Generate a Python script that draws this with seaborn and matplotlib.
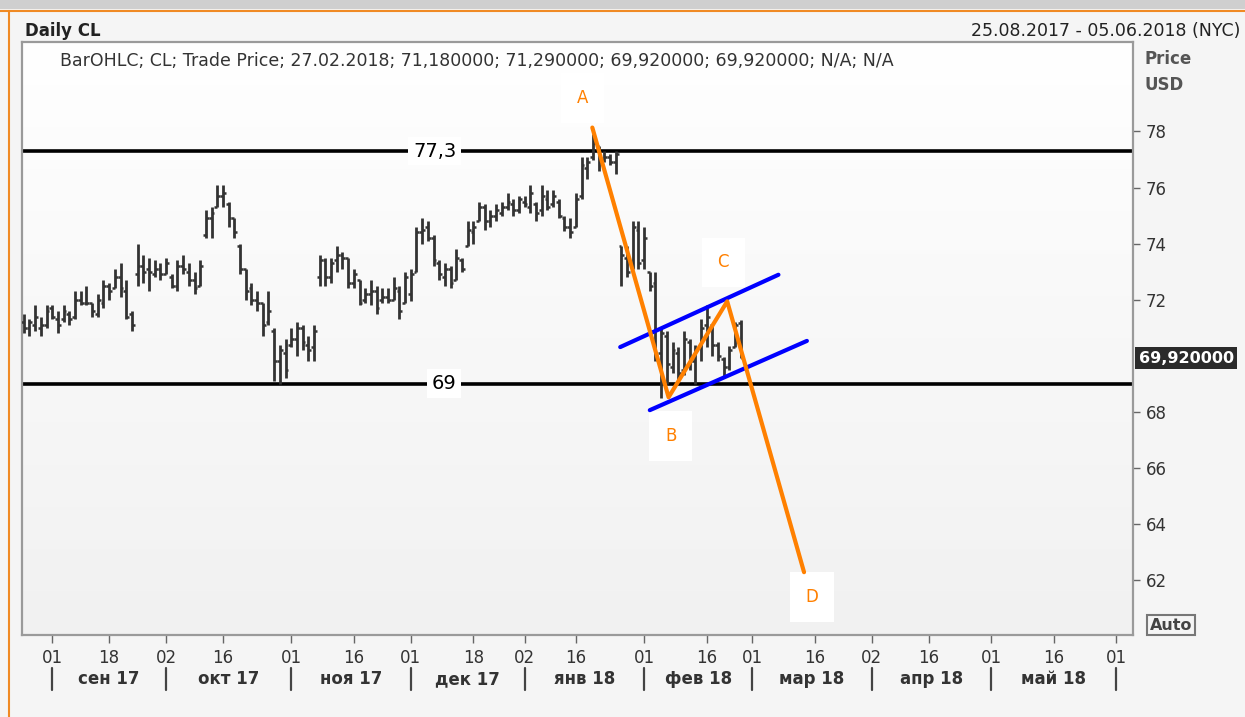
import numpy as np
import pandas as pd
import matplotlib
matplotlib.use("Agg")
import matplotlib.pyplot as plt
import matplotlib.transforms as mtransforms
from matplotlib.colors import LinearSegmentedColormap
import seaborn as sns

# ---------------- data ----------------
axis_start, axis_end = "2017-08-25", "2018-06-05"
holidays = ["2017-09-04", "2017-11-23", "2017-12-25", "2018-01-01",
            "2018-01-15", "2018-02-19", "2018-03-30", "2018-05-28"]

opens = [71.2, 71.0, 71.1, 71.0, 71.1, 71.7, 71.3, 71.3, 71.5, 71.4,
         72.0, 71.9, 71.9, 71.5, 71.9, 72.5, 72.4, 72.8, 72.3, 71.5,
         72.9, 73.2, 73.1, 72.9, 73.1, 72.9, 72.8, 72.5, 73.2, 73.0,
         72.7, 72.5, 74.3, 74.9, 75.3, 75.7, 75.4, 74.9, 73.9, 73.1,
         72.4, 72.0, 71.9, 71.2, 70.9, 69.8, 70.1, 70.4, 70.6, 71.0,
         70.4, 70.3, 72.8, 73.4, 72.8, 73.4, 73.6, 73.5, 72.6, 72.7,
         72.0, 72.2, 72.3, 72.0, 72.1, 72.0, 72.3, 71.9, 72.2, 73.0,
         74.4, 74.6, 74.2, 73.3, 72.8, 73.1, 72.7, 73.4, 73.9, 74.4,
         74.8, 75.3, 74.8, 75.0, 75.1, 75.3, 75.4, 75.2, 75.5, 75.3,
         75.4, 75.2, 75.6, 75.4, 75.5, 74.9, 74.6, 74.6, 75.7, 76.7,
         77.1, 77.5, 77.0, 77.1, 76.9, 73.9, 73.5, 73.2, 74.5, 73.4,
         73.0, 72.6, 70.1, 70.7, 69.6, 70.1, 69.5, 70.5, 69.8, 70.3,
         71.1, 71.1, 70.4, 69.9, 69.6, 70.3, 71.18]
highs = [71.5, 71.3, 71.8, 71.4, 71.8, 71.8, 71.6, 71.8, 71.6, 72.3,
         72.3, 72.5, 71.9, 72.2, 72.7, 72.6, 73.1, 73.3, 72.7, 71.6,
         74.0, 73.6, 73.5, 73.4, 73.3, 73.5, 72.9, 73.4, 73.6, 73.3,
         73.0, 73.4, 75.2, 75.3, 76.1, 76.1, 75.5, 74.9, 74.0, 73.1,
         72.6, 72.3, 71.9, 72.3, 71.0, 70.4, 70.6, 71.0, 71.2, 71.1,
         70.7, 71.1, 73.6, 73.5, 73.5, 73.9, 73.7, 73.5, 73.1, 72.7,
         72.4, 72.7, 72.5, 72.4, 72.4, 72.8, 72.5, 73.0, 73.1, 74.6,
         74.9, 74.8, 74.3, 73.4, 73.3, 73.2, 73.8, 73.5, 74.8, 74.8,
         75.5, 75.4, 75.2, 75.4, 75.5, 75.8, 75.6, 75.7, 75.7, 76.1,
         75.5, 76.1, 75.9, 75.9, 75.6, 75.0, 74.9, 75.8, 77.1, 77.1,
         77.9, 77.5, 77.3, 77.2, 77.3, 73.9, 73.9, 74.8, 74.8, 74.6,
         73.0, 73.0, 71.0, 70.9, 70.5, 70.3, 70.9, 70.6, 70.4, 71.3,
         71.8, 71.1, 70.5, 69.95, 70.35, 71.2, 71.29]
lows = [70.8, 70.7, 70.9, 70.7, 71.0, 71.3, 70.8, 71.2, 71.1, 71.3,
        71.8, 71.8, 71.4, 71.4, 71.7, 72.0, 72.4, 72.1, 71.3, 70.9,
        72.5, 72.6, 72.3, 72.8, 72.7, 72.9, 72.4, 72.3, 72.9, 72.5,
        72.2, 72.5, 74.2, 74.2, 75.3, 75.3, 74.6, 74.2, 72.9, 72.0,
        71.8, 71.6, 70.7, 71.1, 69.1, 69.0, 69.2, 70.3, 70.0, 70.2,
        69.8, 69.8, 72.5, 72.5, 72.6, 73.0, 73.1, 72.4, 72.4, 71.8,
        71.9, 71.8, 71.5, 71.9, 71.9, 72.0, 71.3, 71.9, 71.95, 73.0,
        74.0, 74.1, 73.2, 72.7, 72.5, 72.4, 72.7, 73.0, 73.9, 74.0,
        74.8, 74.5, 74.6, 74.8, 75.0, 75.2, 75.0, 75.1, 75.3, 75.1,
        74.8, 75.0, 75.2, 75.3, 74.9, 74.45, 74.2, 74.6, 75.6, 76.3,
        77.0, 76.6, 76.9, 76.8, 76.5, 72.5, 72.8, 73.1, 73.1, 73.1,
        72.3, 69.8, 68.5, 69.0, 69.4, 69.1, 69.3, 69.5, 69.0, 69.8,
        70.3, 70.0, 69.8, 69.2, 69.5, 70.3, 69.92]
closes = [71.0, 71.2, 71.4, 71.1, 71.6, 71.4, 71.1, 71.6, 71.3, 72.0,
          71.9, 71.9, 71.6, 72.0, 72.5, 72.3, 72.8, 72.4, 71.4, 71.1,
          73.2, 73.0, 73.0, 73.1, 72.9, 73.3, 72.5, 73.2, 73.1, 72.7,
          72.4, 73.2, 74.9, 75.1, 75.7, 75.8, 74.9, 74.4, 73.1, 72.3,
          72.0, 71.9, 71.1, 71.6, 69.8, 70.2, 69.5, 70.6, 71.0, 70.5,
          70.2, 70.9, 73.4, 72.8, 73.3, 73.6, 73.5, 72.6, 72.9, 71.9,
          72.2, 72.3, 71.7, 72.1, 72.0, 72.4, 71.6, 72.8, 72.9, 74.4,
          74.5, 74.2, 73.4, 72.9, 73.1, 72.6, 73.5, 73.1, 74.5, 74.6,
          75.3, 74.8, 75.0, 75.2, 75.3, 75.5, 75.2, 75.6, 75.4, 75.8,
          75.1, 75.7, 75.3, 75.7, 75.0, 74.6, 74.4, 75.6, 76.8, 76.9,
          77.6, 76.9, 77.1, 76.9, 77.2, 73.6, 73.0, 74.6, 73.3, 74.2,
          72.5, 70.0, 70.8, 69.7, 70.2, 69.4, 70.6, 69.8, 70.2, 71.0,
          71.4, 70.4, 70.0, 69.6, 70.2, 71.1, 69.92]

levels = [77.3, 69.0]
level_labels = ["77,3", "69"]
level_label_pos = [72.2, 73.8]

wave_x = [99.9, 113.3, 123.6, 137.1]
wave_y = [78.14, 68.52, 71.94, 62.28]
wave_names = ["A", "B", "C", "D"]
wave_label_x = [98.1, 113.7, 122.9, 138.5]
wave_label_y = [79.2, 67.15, 73.33, 61.4]

chan_up_x, chan_up_y = [104.8, 132.6], [70.31, 72.89]
chan_lo_x, chan_lo_y = [110.0, 137.6], [68.06, 70.53]

price_ticks = [62, 64, 66, 68, 72, 74, 76, 78]
tick_dates = ["2017-09-01", "2017-09-18", "2017-10-02", "2017-10-16", "2017-11-01",
              "2017-11-16", "2017-12-01", "2017-12-18", "2018-01-02", "2018-01-16",
              "2018-02-01", "2018-02-16", "2018-03-01", "2018-03-16", "2018-04-02",
              "2018-04-16", "2018-05-01", "2018-05-16", "2018-06-01"]
month_starts = ["2017-09-01", "2017-10-02", "2017-11-01", "2017-12-01", "2018-01-02",
                "2018-02-01", "2018-03-01", "2018-04-02", "2018-05-01", "2018-06-01"]
month_names = ["сен 17", "окт 17", "ноя 17", "дек 17", "янв 18",
               "фев 18", "мар 18", "апр 18", "май 18"]
last_price = 69.92
last_label = "69,920000"
header_left = "Daily CL"
header_right = "25.08.2017 - 05.06.2018 (NYC)"
info_line = ("BarOHLC; CL; Trade Price; 27.02.2018; 71,180000; 71,290000; "
             "69,920000; 69,920000; N/A; N/A")

# ---------------- style ----------------
sns.set_theme(style="white")
plt.rcParams["font.family"] = ["DejaVu Sans"]

W, H = 1245, 717
fig = plt.figure(figsize=(W / 100, H / 100), dpi=100, facecolor="#f5f5f5")
ax = fig.add_axes([22 / W, 1 - 635 / H, (1133 - 22) / W, (635 - 41.5) / H])

days = pd.bdate_range(axis_start, axis_end, freq="C", holidays=holidays)
pos = {d.strftime("%Y-%m-%d"): i for i, d in enumerate(days)}
n = len(opens)
x = np.arange(n)
xlim = (-0.31, len(days) - 1 + 0.9)
ylim = (60.04, 81.21)

# background gradient
grad = np.linspace(0, 1, 256).reshape(-1, 1)
cmap = LinearSegmentedColormap.from_list("bg", ["#f1f1f1", "#ffffff"])
ax.imshow(grad, extent=[xlim[0], xlim[1], ylim[0], ylim[1]], origin="lower",
          aspect="auto", cmap=cmap, zorder=0)

# OHLC bars
bar_col = "#333333"
ax.vlines(x, lows, highs, color=bar_col, lw=2.0, zorder=3)
ax.hlines(opens, x - 0.5, x, color=bar_col, lw=1.8, zorder=3)
ax.hlines(closes, x, x + 0.5, color=bar_col, lw=1.8, zorder=3)

# horizontal levels
for lv, lab, lx in zip(levels, level_labels, level_label_pos):
    ax.axhline(lv, color="black", lw=2.6, zorder=2)
    ax.text(lx, lv, lab, ha="center", va="center", fontsize=14, color="black", zorder=4,
            bbox=dict(boxstyle="square,pad=0.25", fc="white", ec="none"))

# wave path and channel
orange = "#ff8000"
sns.lineplot(x=wave_x, y=wave_y, ax=ax, color=orange, lw=3, sort=False, zorder=5)
sns.lineplot(x=chan_up_x, y=chan_up_y, ax=ax, color="#0000ff", lw=3, sort=False, zorder=4)
sns.lineplot(x=chan_lo_x, y=chan_lo_y, ax=ax, color="#0000ff", lw=3, sort=False, zorder=4)
for nm, lx, ly in zip(wave_names, wave_label_x, wave_label_y):
    ax.text(lx, ly, nm, ha="center", va="center", fontsize=12, color=orange, zorder=2,
            bbox=dict(boxstyle="square,pad=0.95", fc="white", ec="none"))

ax.set_xlim(*xlim)
ax.set_ylim(*ylim)

# y axis on right
ax.yaxis.tick_right()
ax.set_yticks(price_ticks)
ax.set_yticklabels([str(t) for t in price_ticks])
ax.tick_params(axis="y", direction="out", length=5, width=1, color="#666666",
               labelsize=12, labelcolor="#333333", pad=4, right=True, left=False)

# x axis
ax.set_xticks([pos[d] for d in tick_dates])
ax.set_xticklabels([d[-2:] for d in tick_dates])
ax.tick_params(axis="x", direction="out", length=6, width=1, color="#666666",
               labelsize=12, labelcolor="#333333", pad=4, bottom=True)
ax.set_xlabel("")
ax.set_ylabel("")

for s in ["left", "top", "right", "bottom"]:
    ax.spines[s].set_visible(True)
    ax.spines[s].set_color("#9a9a9a")
    ax.spines[s].set_linewidth(1.6)

# month separators and labels
trans = mtransforms.blended_transform_factory(ax.transData, ax.transAxes)
ms = [pos[d] for d in month_starts]
for m in ms:
    ax.plot([m, m], [-0.055, -0.092], transform=trans, color="#444444", lw=1.6,
            clip_on=False)
for a, b, name in zip(ms[:-1], ms[1:], month_names):
    ax.text((a + b) / 2, -0.0745, name, transform=trans, ha="center", va="center",
            fontsize=12, fontweight="bold", color="#333333", clip_on=False)

# last price label
ax.annotate(last_label, xy=(1.0, last_price), xycoords=("axes fraction", "data"),
            xytext=(4, 0), textcoords="offset points", ha="left", va="center",
            fontsize=11.5, fontweight="bold", color="white", annotation_clip=False,
            bbox=dict(boxstyle="square,pad=0.2", fc="#2b2b2b", ec="none"))

# header texts
fig.text(25 / W, 1 - 31 / H, header_left, fontsize=12, fontweight="bold",
         color="#222222", ha="left", va="center")
fig.text(1240 / W, 1 - 31 / H, header_right, fontsize=12.5, color="#222222",
         ha="right", va="center")
fig.text(60 / W, 1 - 61 / H, info_line, fontsize=12.5, color="#333333",
         ha="left", va="center")
fig.text(1145 / W, 1 - 59 / H, "Price", fontsize=12, fontweight="bold",
         color="#555555", ha="left", va="center")
fig.text(1145 / W, 1 - 85 / H, "USD", fontsize=12, fontweight="bold",
         color="#555555", ha="left", va="center")
fig.text(1171 / W, 1 - 625 / H, "Auto", fontsize=11.5, fontweight="bold",
         color="#444444", ha="center", va="center",
         bbox=dict(boxstyle="square,pad=0.15", fc="none", ec="#777777", lw=1.5))

# frame decorations
fig.add_artist(plt.Line2D([0, 1], [1 - 11 / H, 1 - 11 / H], color="#f08a24", lw=1.5))
fig.add_artist(plt.Rectangle((0, 1 - 9 / H), 1, 9 / H, color="#cfcfcf", lw=0))
fig.add_artist(plt.Line2D([9 / W, 9 / W], [0, 1 - 11 / H], color="#f08a24", lw=1.5))

fig.savefig("out.png", dpi=100, facecolor=fig.get_facecolor())
